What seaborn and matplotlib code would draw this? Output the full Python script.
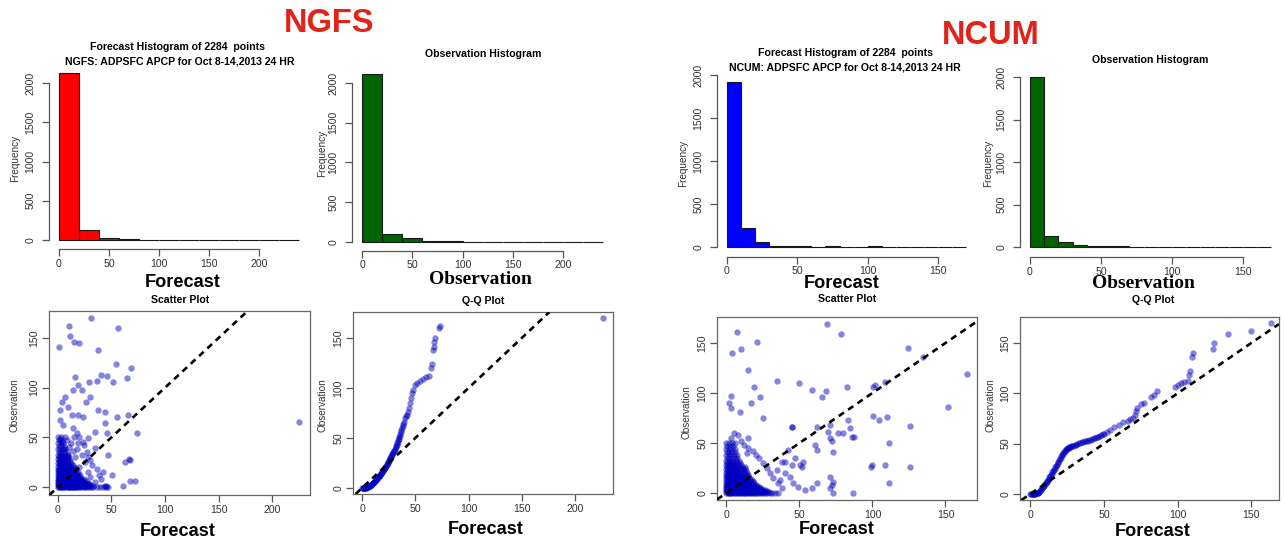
import matplotlib
matplotlib.use("Agg")
import matplotlib.pyplot as plt
from matplotlib import font_manager
import seaborn as sns

W, H = 1285, 546
sns.set_theme(style="white")
_names = {f.name for f in font_manager.fontManager.ttflist}
NARROW = "Liberation Sans Narrow" in _names
SANS = ["Liberation Sans Narrow", "Liberation Sans", "DejaVu Sans"] if NARROW else ["Liberation Sans", "DejaVu Sans"]
K = 1.0 if NARROW else 0.84
plt.rcParams["font.family"] = SANS

# ---------------- data ----------------
ngfs_edges = [0, 20, 40, 60, 80, 100, 120, 140, 160, 180, 200, 220, 240]
ngfs_fc_counts = [2126, 125, 20, 10, 1, 1, 0, 0, 0, 0, 0, 1]
ngfs_ob_counts = [2112, 100, 45, 8, 7, 5, 3, 2, 2, 0, 0, 0]
ncum_edges = [0, 10, 20, 30, 40, 50, 60, 70, 80, 90, 100, 110, 120, 130, 140, 150, 160, 170]
ncum_fc_counts = [1917, 220, 60, 12, 12, 12, 5, 14, 6, 3, 8, 4, 5, 2, 1, 2, 1]
ncum_ob_counts = [1997, 135, 60, 28, 15, 12, 8, 4, 3, 3, 5, 4, 1, 2, 2, 3, 2]

hist_yticks = [0, 500, 1000, 1500, 2000]
ngfs_xticks = [0, 50, 100, 150, 200]
ncum_xticks = [0, 50, 100, 150]
obs_yticks = [0, 50, 100, 150]

# NGFS scatter: scattered points (forecast, observation)
ngfs_sparse = [(30.5, 169.8), (10.3, 162.4), (56.4, 159.7), (11.2, 152), (15.3, 146.3), (19.9, 144.6),
               (0.9, 140.6), (37.7, 137.9), (54.2, 123.5), (67.9, 120.1), (40.2, 112.8), (45.5, 112.1),
               (36.1, 106.7), (29.3, 106), (51.1, 106), (64.8, 109.4), (15.9, 111), (19, 102.7),
               (14.3, 97.7), (22.7, 97.7), (6.5, 90.9), (29.9, 90.9), (25.9, 85.9), (3.4, 85.9),
               (1.9, 77.5), (9.7, 80.9), (12.8, 72.5), (19, 72.5), (23.7, 70.8), (37.7, 77.5),
               (43.9, 75.8), (54.8, 70.8), (65.7, 72.5), (1.9, 67.4), (5, 62.4), (14.3, 59.1),
               (17.4, 54), (43.9, 64.1), (73.5, 54.7), (45.5, 54), (34.6, 55.7), (6.5, 50.7),
               (28.3, 49), (19, 44), (23.7, 45.6), (34.6, 38.9), (26.8, 35.6), (47, 32.2),
               (62.6, 25.5), (67.3, 27.2), (66, 28), (42.4, 15.4), (50.2, 12.1), (61, 1),
               (67.3, 6), (72, 6), (43.9, 0.5), (47, 0), (45, 1), (225, 65.8),
               (2, 48), (4, 45), (8, 47), (12, 44), (15, 50), (20, 50), (24, 42), (10, 40), (6, 38),
               (14, 36), (18, 38), (3, 33), (9, 31), (16, 30), (22, 32), (28, 30), (30, 27), (25, 25),
               (32, 22), (36, 18), (38, 12), (40, 8), (35, 5), (30, 10), (28, 15), (20, 20)]
# NGFS scatter: dense cluster near the origin, read row by row
ngfs_blob_y = [0, 1, 2, 3, 4, 5, 6, 7, 8, 9.5, 11, 12.5, 14, 15.5, 17, 18.5, 20, 22, 24, 26, 28, 30,
               32.5, 35, 38, 41, 44, 47, 50]
ngfs_blob_x = [
    [0, 1, 2, 3, 4, 5, 6, 7, 8, 9, 10, 11, 12, 13, 14, 15, 16, 17, 18, 19.5, 21, 22.5, 24, 25.5, 27, 29, 31, 33, 36, 39, 42, 45],
    [0.5, 1.5, 2.5, 3.5, 4.5, 5.5, 6.5, 7.5, 8.5, 9.5, 10.5, 11.5, 12.5, 13.5, 14.5, 16, 17.5, 19, 20.5, 22, 24, 26, 28, 30, 33],
    [0, 1, 2, 3, 4, 5, 6, 7, 8, 9, 10, 11, 12, 13, 14.5, 16, 17.5, 19, 21, 23, 25, 27.5, 30],
    [0.5, 1.5, 2.5, 3.5, 4.5, 5.5, 6.5, 7.5, 8.5, 9.5, 11, 12.5, 14, 15.5, 17, 18.5, 20, 22, 24, 26, 29],
    [0, 1, 2, 3, 4, 5, 6, 7, 8, 9, 10, 11.5, 13, 14.5, 16, 17.5, 19, 21, 23, 25.5, 28],
    [0.5, 1.5, 2.5, 3.5, 4.5, 5.5, 6.5, 7.5, 9, 10.5, 12, 13.5, 15, 16.5, 18, 20, 22, 24.5],
    [0, 1, 2, 3, 4, 5, 6, 7, 8, 9.5, 11, 12.5, 14, 15.5, 17, 19, 21, 23.5, 26],
    [0.5, 1.5, 2.5, 3.5, 4.5, 5.5, 7, 8.5, 10, 11.5, 13, 14.5, 16, 18, 20, 22.5],
    [0, 1, 2, 3, 4, 5, 6, 7.5, 9, 10.5, 12, 13.5, 15, 17, 19, 21.5, 24],
    [0.5, 1.5, 2.5, 3.5, 5, 6.5, 8, 9.5, 11, 12.5, 14, 16, 18, 20.5],
    [0, 1, 2, 3, 4, 5.5, 7, 8.5, 10, 11.5, 13, 15, 17, 19.5],
    [0.5, 1.5, 2.5, 4, 5.5, 7, 8.5, 10, 11.5, 13.5, 15.5, 18, 21],
    [0, 1, 2, 3.5, 5, 6.5, 8, 9.5, 11, 13, 15, 17.5],
    [0.5, 1.5, 3, 4.5, 6, 7.5, 9, 11, 13, 15.5, 19],
    [0, 1, 2.5, 4, 5.5, 7, 8.5, 10.5, 12.5, 15],
    [0.5, 2, 3.5, 5, 6.5, 8, 10, 12, 14.5, 17],
    [0, 1.5, 3, 4.5, 6, 8, 10, 12.5, 15],
    [0.5, 2, 3.5, 5, 7, 9, 11.5, 14],
    [0, 1.5, 3, 5, 7, 9.5, 12],
    [0.5, 2, 4, 6, 8.5, 11],
    [0, 1.5, 3.5, 5.5, 8, 10.5],
    [0.5, 2.5, 4.5, 7, 9.5],
    [0, 2, 4, 6.5, 9],
    [1, 3, 5.5, 8],
    [0, 2, 4.5, 7],
    [1, 3, 6],
    [0, 2.5, 5],
    [1, 4],
    [0, 2.5]]

# NCUM scatter: scattered points
ncum_sparse = [(69.1, 169), (78.4, 159), (7, 161.3), (20.7, 150.7), (4, 139.7), (9.7, 143.7), (15, 123),
               (34.8, 112), (49.9, 110.3), (58.3, 103), (68.2, 102), (65.2, 96.3), (82.3, 105.7),
               (18.8, 105.7), (23, 96.3), (3.1, 97), (1.7, 89.7), (3.1, 84.7), (16.8, 89.7), (9.2, 80.7),
               (25.2, 74.7), (45.1, 65.7), (71, 68), (69.8, 61.3), (83.4, 73), (84.6, 64.7), (86.2, 56.3),
               (76.6, 60.3), (60.6, 48), (61.8, 43), (71, 54.7), (72.2, 52.3), (41.9, 43), (46.9, 34.7),
               (50.3, 28), (44.6, 28), (40, 31.3), (52.6, 31.3), (51.5, 26.3), (71, 16.3), (72.2, 8),
               (71, 4.7), (58.3, 4.7), (61.8, 9.7), (53.8, 3), (86.9, 0), (99.4, 28), (100.5, 77),
               (100.5, 105.7), (37.8, 31.3), (40, 19.7), (43.5, 16.3), (45.8, 9.7), (49.2, 6.3),
               (34.4, 23), (36.6, 13), (124.5, 144.7), (134.8, 136.3), (164.5, 119), (101.7, 108),
               (108.6, 111.3), (104.7, 73), (109.7, 75.7), (125.7, 67), (151.9, 85.7), (111.5, 50.3),
               (99, 26.3), (108.6, 28), (125.7, 26.3), (111.5, 9.7), (72.7, 11.3), (72.7, 0),
               (72.7, 41.3), (80, 60), (87.6, 56.3), (44.7, 66), (61.8, 66.3),
               (5, 60), (8, 58), (10, 52), (3, 55), (12, 48), (15, 45), (18, 42), (20, 38), (22, 35),
               (25, 30), (28, 25), (30, 20), (32, 15), (35, 10), (38, 5), (14, 40), (15, 55), (6, 50)]
ncum_blob_y = [0, 1, 2, 3, 4, 5, 6, 7, 8, 9.5, 11, 12.5, 14, 15.5, 17, 18.5, 20, 22, 24, 26, 28, 30,
               32.5, 35, 38, 41, 44, 47, 50]
ncum_blob_x = [
    [0, 0.8, 1.6, 2.4, 3.2, 4, 5, 6, 7, 8, 9, 10, 11, 12, 13, 14, 15, 16, 17, 18, 19, 20, 21, 22, 23.5, 25, 26.5, 28, 29.5, 31, 33, 35],
    [0.4, 1.2, 2, 2.8, 3.6, 4.5, 5.5, 6.5, 7.5, 8.5, 9.5, 10.5, 11.5, 12.5, 13.5, 14.5, 15.5, 16.5, 17.5, 19, 20.5, 22, 23.5, 25, 27, 29],
    [0, 1, 2, 3, 4, 5, 6, 7, 8, 9, 10, 11, 12, 13, 14, 15, 16.5, 18, 19.5, 21, 22.5, 24, 26, 28],
    [0.5, 1.5, 2.5, 3.5, 4.5, 5.5, 6.5, 7.5, 8.5, 9.5, 10.5, 11.5, 12.5, 14, 15.5, 17, 18.5, 20, 22, 24, 26.5],
    [0, 1, 2, 3, 4, 5, 6, 7, 8, 9, 10, 11, 12, 13.5, 15, 16.5, 18, 20, 22, 24.5],
    [0.5, 1.5, 2.5, 3.5, 4.5, 5.5, 6.5, 7.5, 8.5, 9.5, 11, 12.5, 14, 15.5, 17, 19, 21, 23],
    [0, 1, 2, 3, 4, 5, 6, 7, 8, 9, 10.5, 12, 13.5, 15, 16.5, 18.5, 20.5, 22.5],
    [0.5, 1.5, 2.5, 3.5, 4.5, 5.5, 6.5, 7.5, 9, 10.5, 12, 13.5, 15, 17, 19, 21],
    [0, 1, 2, 3, 4, 5, 6, 7, 8.5, 10, 11.5, 13, 14.5, 16, 18, 20],
    [0.5, 1.5, 2.5, 3.5, 4.5, 5.5, 7, 8.5, 10, 11.5, 13, 15, 17, 19],
    [0, 1, 2, 3, 4, 5, 6.5, 8, 9.5, 11, 12.5, 14.5, 16.5, 18.5],
    [0.5, 1.5, 2.5, 3.5, 4.5, 6, 7.5, 9, 10.5, 12, 14, 16, 18],
    [0, 1, 2, 3, 4, 5.5, 7, 8.5, 10, 12, 14, 16.5],
    [0.5, 1.5, 2.5, 3.5, 5, 6.5, 8, 9.5, 11.5, 13.5, 15.5],
    [0, 1, 2, 3, 4.5, 6, 7.5, 9, 11, 13, 15],
    [0.5, 1.5, 2.5, 4, 5.5, 7, 8.5, 10.5, 12.5, 14.5],
    [0, 1, 2, 3.5, 5, 6.5, 8, 10, 12, 14],
    [0.5, 1.5, 3, 4.5, 6, 7.5, 9.5, 11.5, 13.5],
    [0, 1, 2.5, 4, 5.5, 7, 9, 11, 13],
    [0.5, 2, 3.5, 5, 6.5, 8.5, 10.5, 12.5],
    [0, 1.5, 3, 4.5, 6, 8, 10],
    [0.5, 2, 3.5, 5, 7, 9],
    [0, 1.5, 3, 4.5, 6.5, 8.5],
    [0.5, 2, 3.5, 5.5, 7.5],
    [0, 1.5, 3, 5, 7],
    [0.5, 2, 4, 6],
    [0, 1.5, 3.5, 5.5],
    [0.5, 2.5, 4.5],
    [0, 2, 4]]

# Q-Q plots: (forecast quantile, observation quantile)
ngfs_qq = [(0, 0), (1, 0), (2, 0), (3, 0), (4, 0.5), (5, 1), (6, 1.5), (7, 2), (8, 3), (9, 4), (10, 5),
           (11, 6), (12, 7), (13, 8), (14, 9.5), (15, 11), (16, 12), (17, 13.5), (18, 15), (19, 16.5),
           (20, 18), (21, 19.5), (22, 21), (23, 23), (24, 25), (25, 27), (26, 29), (27, 31), (28, 33),
           (29, 35), (30, 37), (31, 39.5), (32, 42), (33, 45), (34, 48), (35, 51), (36, 54), (37, 58),
           (38, 62), (39, 66), (40, 70), (41, 72), (42, 73), (43, 76), (44, 80), (45, 85), (46, 90),
           (47, 95), (48, 98), (50, 103), (52, 105), (54, 107), (57, 109), (60, 111), (63, 112),
           (65, 120), (66, 124), (67, 138), (67.5, 141), (68, 146), (68.5, 150), (72.5, 160),
           (73, 162), (226.6, 169.7)]
ngfs_qq_low = [(0.5, 0), (1.5, 0), (2.5, 0), (3.5, 0.2), (4.5, 0.7), (5.5, 1.2), (6.5, 1.8), (7.5, 2.5),
               (8.5, 3.5), (9.5, 4.5), (10.5, 5.5), (11.5, 6.5), (12.5, 7.5), (13.5, 8.8), (14.5, 10.2),
               (15.5, 11.5), (16.5, 12.8), (17.5, 14.2), (18.5, 15.8), (19.5, 17.2), (20.5, 18.8),
               (21.5, 20.2), (22.5, 22), (23.5, 24), (24.5, 26), (25.5, 28), (26.5, 30), (27.5, 32),
               (28.5, 34), (29.5, 36), (30.5, 38.2), (31.5, 40.8), (32.5, 43.5), (33.5, 46.5),
               (34.5, 49.5), (35.5, 52.5), (36.5, 56), (37.5, 60), (38.5, 64)]
ncum_qq = [(0, 0), (1, 0), (2, 0), (3, 0), (4, 0.5), (5, 0.5), (6, 1.5), (7, 3.5), (8, 5.5), (9, 8),
           (10, 10), (11, 12), (12, 14), (13, 16.5), (14, 19), (15, 21.5), (16, 24), (17, 26.5),
           (18, 29), (19, 32), (20, 35), (21, 37.5), (22, 40), (23, 42), (24, 43.5), (25, 45),
           (26, 46), (27, 47), (28, 47.5), (30, 48.5), (32, 49.5), (34, 51), (36, 52), (38, 52.5),
           (40, 53.5), (42, 54.5), (44, 56), (46, 57), (48, 58.5), (50, 60), (52, 62), (54, 64),
           (57, 66.5), (60, 69), (63, 71), (66, 72.5), (68, 74), (70, 75.5), (71, 78), (72, 82),
           (72.5, 85), (75, 89), (77, 90.5), (82, 96), (84, 98), (86, 102), (98, 106), (100, 108),
           (102, 110), (104, 111), (107, 112), (108, 118), (108.5, 122), (109.5, 136), (110.5, 140),
           (124, 144.5), (125, 150), (134, 159), (150, 161.5), (163.5, 169.5)]
ncum_qq_low = [(0.5, 0), (1.5, 0), (2.5, 0), (3.5, 0.2), (4.5, 0.5), (5.5, 1), (6.5, 2.5), (7.5, 4.5),
               (8.5, 6.8), (9.5, 9), (10.5, 11), (11.5, 13), (12.5, 15.2), (13.5, 17.8), (14.5, 20.2),
               (15.5, 22.8), (16.5, 25.2), (17.5, 27.8), (18.5, 30.5), (19.5, 33.5), (20.5, 36.2),
               (21.5, 38.8), (22.5, 41), (23.5, 42.8), (24.5, 44.2), (25.5, 45.5), (26.5, 46.5),
               (27.5, 47.2), (29, 48), (31, 49), (33, 50.2), (35, 51.5), (37, 52.2), (39, 53), (41, 54),
               (43, 55.2), (45, 56.5), (47, 57.8), (49, 59.2)]

# ---------------- drawing ----------------
fig = plt.figure(figsize=(W / 100, H / 100), dpi=100)
fig.patch.set_facecolor("white")


def add_ax(L, T, R, B):
    return fig.add_axes([L / W, 1 - B / H, (R - L) / W, (B - T) / H])


def ftext(x, y, s, size, weight="normal", color="black", rot=0, family=None):
    fig.text(x / W, 1 - y / H, s, ha="center", va="center", fontsize=size, fontweight=weight,
             color=color, rotation=rot, family=family or SANS)


TICK_C = "#555555"
LAB_C = "#333333"
PT_C = "#0000c0"


def style_ticks(ax, xticks, yticks, xpad, ypad):
    ax.set_xticks(xticks)
    ax.set_yticks(yticks)
    ax.tick_params(axis="both", which="both", direction="out", length=5, width=0.9, color=TICK_C,
                   labelsize=9.0 * K, labelcolor=LAB_C, bottom=True, left=True, top=False, right=False)
    ax.tick_params(axis="x", pad=xpad)
    ax.tick_params(axis="y", pad=ypad)
    for lb in ax.get_yticklabels():
        lb.set_rotation(90)
        lb.set_va("center")
    ax.set_xlabel("")
    ax.set_ylabel("")


def draw_hist(ax, edges, counts, color, xticks, xlim, ylim):
    centers = [(a + b) / 2 for a, b in zip(edges[:-1], edges[1:])]
    sns.histplot(x=centers, weights=counts, bins=edges, color=color, alpha=1,
                 edgecolor="#1a1a1a", linewidth=0.8, ax=ax)
    ax.set_xlim(*xlim)
    ax.set_ylim(*ylim)
    ax.set_facecolor("white")
    for s in ["top", "right"]:
        ax.spines[s].set_visible(False)
    for s in ["left", "bottom"]:
        ax.spines[s].set_color(TICK_C)
        ax.spines[s].set_linewidth(0.9)
    ax.spines["left"].set_bounds(0, 2000)
    ax.spines["bottom"].set_bounds(xticks[0], xticks[-1])
    ax.spines["bottom"].set_position(("outward", 2))
    style_ticks(ax, xticks, hist_yticks, 1.5, 5)


def expand(rows_y, rows_x):
    pts = []
    for yv, xs in zip(rows_y, rows_x):
        pts += [(xv, yv) for xv in xs]
    return pts


def draw_scatter(ax, pts, xticks, xlim, ylim):
    xs = [p[0] for p in pts]
    ys = [p[1] for p in pts]
    sns.scatterplot(x=xs, y=ys, color=PT_C, alpha=0.48, s=21, linewidth=0, ax=ax, zorder=2)
    ax.axline((0, 0), (1, 1), color="black", linestyle=(0, (2.4, 1.9)), linewidth=1.9, zorder=3)
    ax.set_xlim(*xlim)
    ax.set_ylim(*ylim)
    ax.set_facecolor("white")
    for s in ax.spines.values():
        s.set_visible(True)
        s.set_color("#666666")
        s.set_linewidth(0.9)
    style_ticks(ax, xticks, obs_yticks, 2, 2)


# histograms
ax1 = add_ax(49.4, 66.1, 308.6, 246.7)
draw_hist(ax1, ngfs_edges, ngfs_fc_counts, "#ff0000", ngfs_xticks, (-9.6, 249.6), (-85, 2215))
ax2 = add_ax(352.4, 69.2, 613.0, 248.6)
draw_hist(ax2, ngfs_edges, ngfs_ob_counts, "#006400", ngfs_xticks, (-9.6, 249.6), (-83.6, 2173.6))
ax3 = add_ax(717.4, 74.1, 975.8, 253.9)
draw_hist(ax3, ncum_edges, ncum_fc_counts, "#0000ff", ncum_xticks, (-6.8, 176.8), (-80, 2010))
ax4 = add_ax(1020.3, 70.2, 1281.0, 254.7)
draw_hist(ax4, ncum_edges, ncum_ob_counts, "#006400", ncum_xticks, (-6.8, 176.8), (-90, 2080))

# scatter / Q-Q
ax5 = add_ax(49, 311, 310, 495)
draw_scatter(ax5, ngfs_sparse + expand(ngfs_blob_y, ngfs_blob_x), ngfs_xticks, (-8.4, 235.5), (-8.1, 177.2))
ax6 = add_ax(353, 312, 613, 494)
draw_scatter(ax6, ngfs_qq + ngfs_qq_low, ngfs_xticks, (-8.5, 235.7), (-6, 176))
ax7 = add_ax(717, 317, 977, 500)
draw_scatter(ax7, ncum_sparse + expand(ncum_blob_y, ncum_blob_x), ncum_xticks, (-6.5, 171.6), (-7, 176))
ax8 = add_ax(1020, 317, 1279, 500)
draw_scatter(ax8, ncum_qq + ncum_qq_low, ncum_xticks, (-7, 168.8), (-6, 175.8))

# texts
RED = "#e2231a"
ftext(329, 24, "NGFS", 28 * K, "bold", RED)
ftext(991, 36, "NCUM", 28 * K, "bold", RED)

TS = 9 * K
ftext(178, 47, "Forecast Histogram of 2284  points", TS, "bold")
ftext(180, 61, "NGFS: ADPSFC APCP for Oct 8-14,2013 24 HR", TS, "bold")
ftext(483, 54, "Observation Histogram", TS, "bold")
ftext(845, 53, "Forecast Histogram of 2284  points", TS, "bold")
ftext(845, 67, "NCUM: ADPSFC APCP for Oct 8-14,2013 24 HR", TS, "bold")
ftext(1150, 60, "Observation Histogram", TS, "bold")
ftext(180, 300, "Scatter Plot", TS, "bold")
ftext(483, 301, "Q-Q Plot", TS, "bold")
ftext(847, 299, "Scatter Plot", TS, "bold")
ftext(1153, 300, "Q-Q Plot", TS, "bold")

YS = 8.6 * K
ftext(15, 158, "Frequency", YS, color=LAB_C, rot=90)
ftext(322, 153, "Frequency", YS, color=LAB_C, rot=90)
ftext(683, 163, "Frequency", YS, color=LAB_C, rot=90)
ftext(988, 163, "Frequency", YS, color=LAB_C, rot=90)
ftext(15, 405, "Observation", YS, color=LAB_C, rot=90)
ftext(323, 405, "Observation", YS, color=LAB_C, rot=90)
ftext(686, 412, "Observation", YS, color=LAB_C, rot=90)
ftext(990, 405, "Observation", YS, color=LAB_C, rot=90)

BS = 15.5 * K
SERIF = ["Liberation Serif", "DejaVu Serif"]
ftext(183, 282, "Forecast", BS, "bold")
ftext(480, 279, "Observation", 14, "bold", family=SERIF)
ftext(842, 283, "Forecast", BS, "bold")
ftext(1143, 283, "Observation", 14, "bold", family=SERIF)
ftext(178, 532, "Forecast", BS, "bold")
ftext(486, 530, "Forecast", BS, "bold")
ftext(837, 530, "Forecast", BS, "bold")
ftext(1153, 531, "Forecast", BS, "bold")

fig.savefig("out.png", dpi=100, facecolor="white")
